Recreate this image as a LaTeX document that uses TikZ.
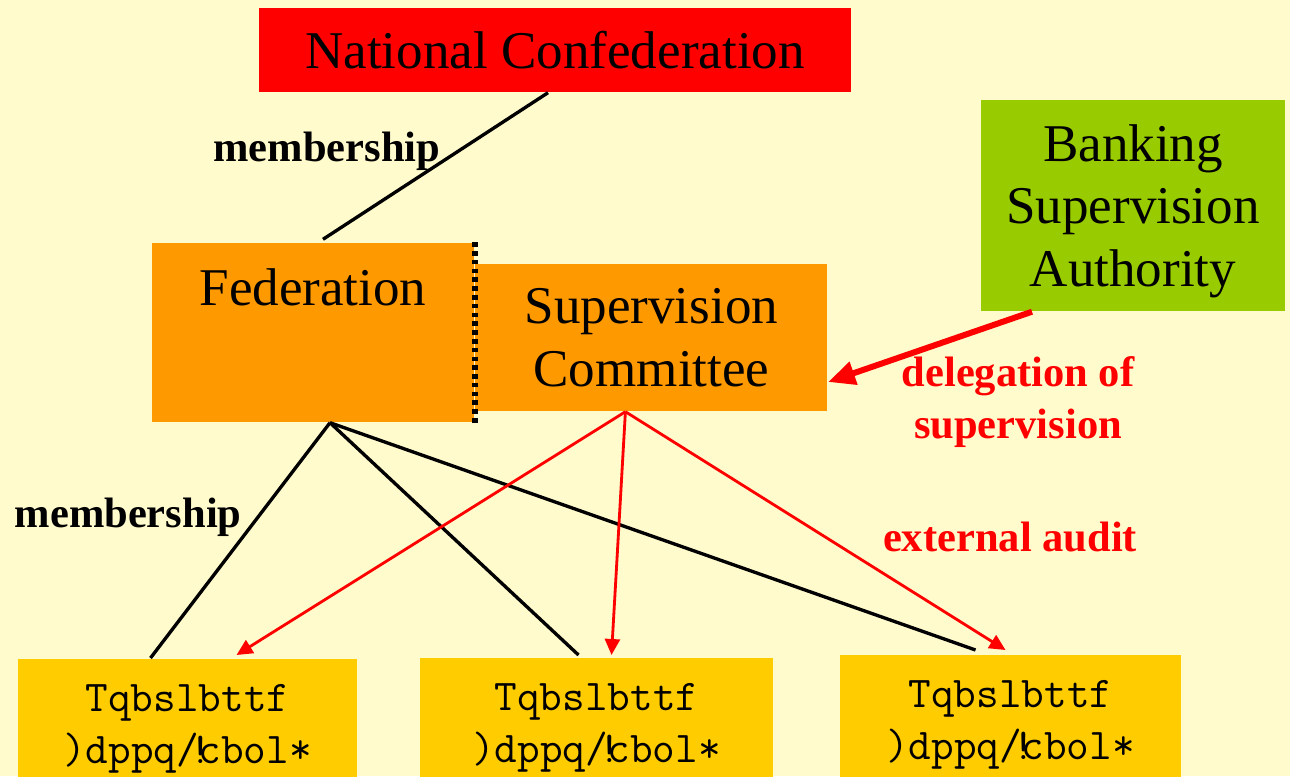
\documentclass[tikz,border=0pt]{standalone}
\usepackage{fontspec}
\setmainfont{Liberation Serif}
\usepackage{tikz}
\usetikzlibrary{arrows.meta,positioning}
\definecolor{paper}{HTML}{FFFBCC}
\definecolor{confred}{HTML}{FF0000}
\definecolor{authgreen}{HTML}{99CC00}
\definecolor{fedorange}{HTML}{FF9900}
\definecolor{bankyellow}{HTML}{FFCC00}
\tikzstyle{block} = [rectangle, inner sep=0pt, align=center, text depth=0pt,
    font=\fontsize{15.1}{17.7}\selectfont]
\tikzstyle{bank} = [rectangle, fill=bankyellow, anchor=north, align=center,
    inner xsep=0pt, inner ysep=2mm, minimum height=14mm,
    font=\ttfamily\fontsize{12.5}{14.8}\selectfont]
\tikzstyle{tag} = [inner sep=0pt, align=center,
    font=\bfseries\fontsize{12.1}{14.8}\selectfont]
\tikzstyle{member} = [line width=0.95pt]
\tikzstyle{audit} = [red, line width=0.8pt, -{Triangle[length=1.6mm,width=1.5mm]}]
\tikzstyle{delegate} = [red, line width=0.6mm, -{Triangle[length=2.7mm,width=2.3mm]}]
\newcommand{\sparkasse}{Tqbslbttf\\)dppq/\kern-.22em!\kern-.305em cbol*}

\begin{document}
\begin{tikzpicture}[x=0.1mm, y=-0.1mm]
		\fill[paper] (0,0) rectangle (1290,776);
		\clip (0,0) rectangle (1290,776);
		
		% top of the tree and the outside authority
		\node[block, fill=confred, minimum width=59.2mm, minimum height=8.4mm] (conf) at (555,50) {National Confederation};
		\node[block, fill=authgreen, minimum width=30.4mm, minimum height=21.1mm] (bsa) at (1133,205.5) {Banking\\Supervision\\Authority};
		
		% federation with its committee alongside
		\node[block, fill=fedorange, minimum width=32.2mm, minimum height=17.9mm] (fed) at (313,332.5) {};
		\node[block, anchor=base] (fedname) at (313,305) {Federation};
		\node[block, fill=fedorange, minimum width=35.2mm, minimum height=14.7mm, right=0pt of fed, yshift=-0.5mm] (supcom) {Supervision\\Committee};
		\draw[line width=1.6pt, dash pattern=on 1.3pt off 1.2pt] (fed.north east) -- (fed.south east);
		
		% member banks
		\node[bank, minimum width=33.9mm] (bank1) at (187.5,658) {\sparkasse};
		\node[bank, minimum width=35.3mm] (bank2) at (596.5,657) {\sparkasse};
		\node[bank, minimum width=34.1mm] (bank3) at (1010.5,654) {\sparkasse};
		
		% membership lines
		\draw[member] ([xshift=-0.7mm]conf.south) -- node[tag, pos=0.4, left=1.6mm] {membership} ([xshift=1mm, yshift=0.3mm]fed.north);
		\draw[member] ([xshift=1.7mm]fed.south) -- node[tag, pos=0.4, left=1.5mm] {membership} ([xshift=-3.7mm]bank1.north);
		\draw[member] ([xshift=1.7mm]fed.south) -- ([xshift=-1.8mm, yshift=0.2mm]bank2.north);
		\draw[member] ([xshift=1.7mm]fed.south) -- ([xshift=-3.5mm, yshift=0.4mm]bank3.north);
		
		% supervision
		\draw[delegate] ([xshift=-10.1mm]bsa.south) -- ([yshift=-4.45mm]supcom.east);
		\node[tag, text=red] (deleg) at (1018,402) {delegation of\\supervision};
		\draw[audit] ([xshift=-2.6mm]supcom.south) -- ([xshift=4.9mm, yshift=0.3mm]bank1.north);
		\draw[audit] ([xshift=-2.6mm]supcom.south) -- ([xshift=1.5mm, yshift=0.2mm]bank2.north);
		\draw[audit] ([xshift=-2.6mm]supcom.south) -- ([xshift=-0.5mm, yshift=0.4mm]bank3.north);
		\node[tag, text=red] (audit) at (1010,537) {external audit};
	\end{tikzpicture}
\end{document}
